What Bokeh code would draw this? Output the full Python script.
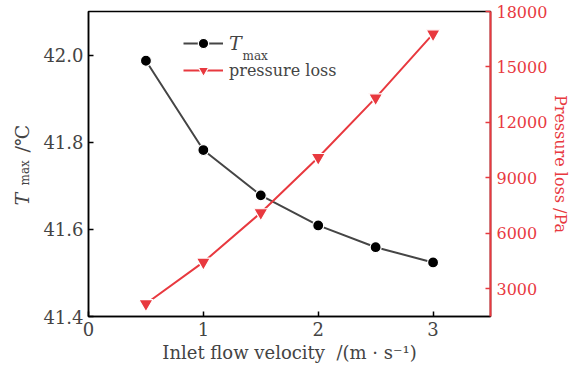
import math

from bokeh.plotting import figure
from bokeh.layouts import row
from bokeh.models import (Range1d, LinearAxis, FixedTicker, PrintfTickFormatter,
                          Legend, LegendItem, Label)
from bokeh.embed import file_html
from bokeh.resources import INLINE

# Inlet flow velocity (m/s) and the two measured responses
velocity = [0.5, 1.0, 1.5, 2.0, 2.5, 3.0]
t_max = [41.987, 41.782, 41.678, 41.609, 41.559, 41.524]          # deg C
pressure_loss = [2190, 4440, 7110, 10100, 13330, 16790]            # Pa

x_ticks = [0, 1, 2, 3]
t_ticks = [41.4, 41.6, 41.8, 42.0]
p_ticks = [3000, 6000, 9000, 12000, 15000, 18000]

FONT = "DejaVu Serif"
DARK = "#454545"
RED = "#e8393f"
HEIGHT = 372
TITLE_W = 30          # horizontal space the title strip takes in the row
TITLE_CANVAS_W = 70   # its canvas is wider and slides under the main plot's left border
BORDER_TOP = 11
BORDER_BOTTOM = 56

p = figure(width=573 - TITLE_W, height=HEIGHT,
           x_range=Range1d(0, 3.5), y_range=Range1d(41.4, 42.1),
           output_backend="svg", toolbar_location=None,
           min_border_left=58, min_border_right=82,
           min_border_top=BORDER_TOP, min_border_bottom=BORDER_BOTTOM)
p.extra_y_ranges = {"pressure": Range1d(1500, 18000)}

p.xgrid.visible = False
p.ygrid.visible = False
p.outline_line_color = "black"
p.outline_line_width = 1.5
p.background_fill_color = "white"
p.border_fill_alpha = 0

# bottom axis
xa = p.xaxis[0]
xa.ticker = FixedTicker(ticks=x_ticks)
xa.axis_label = "Inlet flow velocity\u00a0\u00a0/(m \u00b7 s\u207b\u00b9)"
xa.axis_label_text_font = FONT
xa.axis_label_text_font_size = "18px"
xa.axis_label_text_font_style = "normal"
xa.axis_label_standoff = 3
xa.major_label_text_font = FONT
xa.major_label_text_font_size = "18px"
xa.major_label_standoff = 5
xa.major_tick_in = 5
xa.major_tick_out = 0
xa.minor_tick_line_color = None
xa.axis_line_width = 1.5
xa.axis_line_color = "black"
xa.major_tick_line_color = "black"
xa.major_tick_line_width = 1.5

# left axis (temperature)
ya = p.yaxis[0]
ya.ticker = FixedTicker(ticks=t_ticks)
ya.formatter = PrintfTickFormatter(format="%.1f")
ya.major_label_text_font = FONT
ya.major_label_text_font_size = "18px"
ya.major_label_standoff = 5
ya.major_tick_in = 5
ya.major_tick_out = 0
ya.minor_tick_line_color = None
ya.axis_line_width = 1.5
ya.axis_line_color = "black"
ya.major_tick_line_color = "black"
ya.major_tick_line_width = 1.5

# right axis (pressure loss)
ra = LinearAxis(y_range_name="pressure", ticker=FixedTicker(ticks=p_ticks),
                axis_label="Pressure loss /Pa")
ra.axis_label_orientation = "vertical"
ra.axis_label_text_font = FONT
ra.axis_label_text_font_size = "16px"
ra.axis_label_text_font_style = "normal"
ra.axis_label_text_color = RED
ra.axis_label_standoff = 1
ra.major_label_text_font = FONT
ra.major_label_text_font_size = "16px"
ra.major_label_text_color = RED
ra.major_label_standoff = 6
ra.major_tick_in = 5
ra.major_tick_out = 0
ra.minor_tick_line_color = None
ra.axis_line_width = 2
ra.axis_line_color = RED
ra.major_tick_line_color = RED
ra.major_tick_line_width = 1.5
p.add_layout(ra, "right")

# series
t_line = p.line(velocity, t_max, line_color=DARK, line_width=2)
t_pts = p.scatter(velocity, t_max, marker="circle", size=11,
                  fill_color="black", line_color="white", line_width=1.2)
pl_line = p.line(velocity, pressure_loss, y_range_name="pressure",
                 line_color=RED, line_width=2)
pl_pts = p.scatter(velocity, pressure_loss, y_range_name="pressure",
                   marker="inverted_triangle", size=14,
                   fill_color=RED, line_color="white", line_width=1.2)


def make_legend(label, renderers, loc, size, style):
    leg = Legend(items=[LegendItem(label=label, renderers=renderers)],
                 location=loc, glyph_width=40, glyph_height=26,
                 label_standoff=6, padding=0, margin=0, spacing=0,
                 border_line_color=None, background_fill_alpha=0)
    leg.label_text_font = FONT
    leg.label_text_font_size = size
    leg.label_text_font_style = style
    return leg


p.add_layout(make_legend("T", [t_line, t_pts], (95, 260), "19px", "italic"))
p.add_layout(make_legend("pressure loss", [pl_line, pl_pts], (95, 233), "16px", "normal"))
p.add_layout(Label(x=154, y=261, x_units="screen", y_units="screen", text="max",
                   text_font=FONT, text_font_size="12px",
                   text_baseline="alphabetic", text_align="left"))

# strip on the left holding the temperature axis title (T with subscript);
# its frame lines up with the main frame, so y is measured up from the frame bottom
title_fig = figure(width=TITLE_CANVAS_W, height=HEIGHT,
                   x_range=Range1d(0, 1), y_range=Range1d(0, 1),
                   x_axis_type=None, y_axis_type=None,
                   output_backend="svg", toolbar_location=None,
                   min_border_left=0, min_border_right=0,
                   min_border_top=BORDER_TOP, min_border_bottom=BORDER_BOTTOM,
                   margin=(0, TITLE_W - TITLE_CANVAS_W, 0, 0))
title_fig.outline_line_color = None
title_fig.background_fill_color = "white"
title_fig.border_fill_color = "white"
title_fig.grid.visible = False

frame_bottom = HEIGHT - BORDER_BOTTOM
rot = math.pi / 2
title_fig.add_layout(Label(x=21, y=frame_bottom - 205, x_units="screen", y_units="screen",
                           text="T", angle=rot, text_font=FONT, text_font_size="19px",
                           text_font_style="italic", text_baseline="alphabetic",
                           text_align="left"))
title_fig.add_layout(Label(x=24, y=frame_bottom - 185, x_units="screen", y_units="screen",
                           text="max", angle=rot, text_font=FONT, text_font_size="12px",
                           text_baseline="alphabetic", text_align="left"))
title_fig.add_layout(Label(x=21, y=frame_bottom - 152, x_units="screen", y_units="screen",
                           text="/\u2103", angle=rot, text_font=FONT, text_font_size="19px",
                           text_baseline="alphabetic", text_align="left"))

layout = row(title_fig, p, spacing=0)
open("out.html", "w").write(file_html(layout, INLINE))
